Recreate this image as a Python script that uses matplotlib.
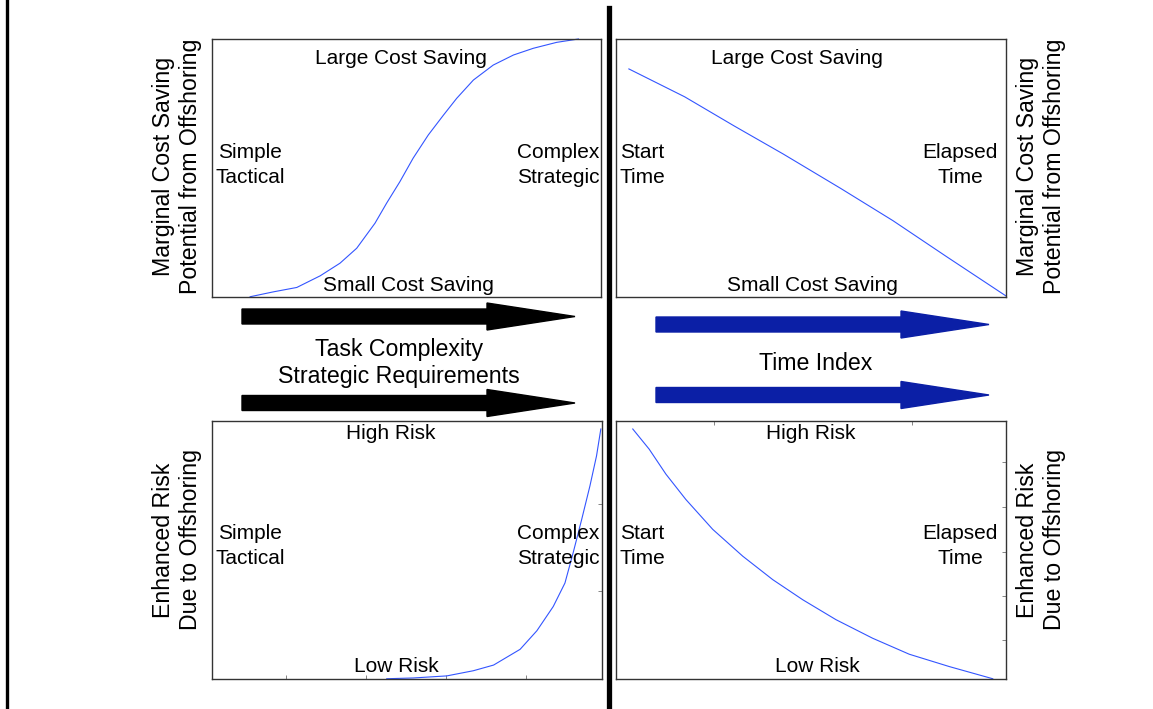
import matplotlib
matplotlib.use("Agg")
import matplotlib.pyplot as plt
from matplotlib.patches import FancyArrow
from matplotlib.lines import Line2D

plt.rcParams["font.family"] = ["Liberation Sans", "DejaVu Sans"]

W, H = 1153, 709

# curve data (x, y in 0..1 of each panel)
cost_task_x = [0.098, 0.158, 0.218, 0.278, 0.329, 0.372, 0.419, 0.449, 0.483, 0.517,
               0.556, 0.595, 0.629, 0.672, 0.723, 0.775, 0.826, 0.886, 0.942]
cost_task_y = [0.001, 0.020, 0.037, 0.082, 0.131, 0.189, 0.286, 0.364, 0.447, 0.538,
               0.628, 0.705, 0.770, 0.841, 0.899, 0.938, 0.964, 0.987, 1.0]

cost_time_x = [0.033, 0.176, 0.303, 0.429, 0.576, 0.710, 0.848, 1.0]
cost_time_y = [0.884, 0.776, 0.663, 0.554, 0.421, 0.296, 0.156, 0.004]

risk_task_x = [0.448, 0.516, 0.602, 0.670, 0.722, 0.790, 0.833, 0.875, 0.905, 0.926,
               0.948, 0.969, 0.986, 0.997]
risk_task_y = [0.001, 0.004, 0.012, 0.032, 0.054, 0.115, 0.187, 0.281, 0.372, 0.489,
               0.619, 0.748, 0.865, 0.969]

risk_time_x = [0.043, 0.085, 0.128, 0.179, 0.248, 0.325, 0.402, 0.479, 0.564, 0.658,
               0.752, 0.855, 0.966]
risk_time_y = [0.969, 0.891, 0.794, 0.696, 0.580, 0.476, 0.385, 0.307, 0.230, 0.158,
               0.096, 0.048, 0.001]

curve_color = "#3355ff"
blue_arrow = "#0b1fa6"


def fx(x):
    return x / W


def fy(y):
    return 1 - y / H


def make_ax(fig, left, top, right, bottom):
    ax = fig.add_axes([fx(left), fy(bottom), (right - left) / W, (bottom - top) / H])
    ax.set_xlim(0, 1)
    ax.set_ylim(0, 1)
    ax.set_xticks([])
    ax.set_yticks([])
    for s in ax.spines.values():
        s.set_color("#333333")
        s.set_linewidth(1.0)
    return ax


def label(fig, x, y, txt, size=15, spacing=1.35, **kw):
    fig.text(fx(x), fy(y), txt, ha="center", va="center", fontsize=size,
             multialignment="center", linespacing=spacing, **kw)


fig = plt.figure(figsize=(W / 100, H / 100), dpi=100)

ax_tl = make_ax(fig, 212, 39, 601, 297)
ax_tr = make_ax(fig, 616, 39, 1006, 297)
ax_bl = make_ax(fig, 212, 421, 602, 679)
ax_br = make_ax(fig, 616, 421, 1006, 679)

ax_tl.plot(cost_task_x, cost_task_y, color=curve_color, lw=0.8, clip_on=False)
ax_tr.plot(cost_time_x, cost_time_y, color=curve_color, lw=0.8, clip_on=False)
ax_bl.plot(risk_task_x, risk_task_y, color=curve_color, lw=0.8, clip_on=False)
ax_br.plot(risk_time_x, risk_time_y, color=curve_color, lw=0.8, clip_on=False)

# faint ticks on the lower panels
tick_kw = dict(direction="in", length=3, width=0.5, color="#555555")
ax_bl.set_xticks([0.19, 0.395, 0.6, 0.805])
ax_bl.tick_params(axis="x", labelbottom=False, **tick_kw)
ax_bl.yaxis.tick_right()
ax_bl.set_yticks([0.34, 0.68])
ax_bl.tick_params(axis="y", labelright=False, **tick_kw)
ax_br.xaxis.tick_top()
ax_br.set_xticks([0.25, 0.76])
ax_br.tick_params(axis="x", labeltop=False, **tick_kw)
ax_br.yaxis.tick_right()
ax_br.set_yticks([0.152, 0.323, 0.494, 0.665, 0.84])
ax_br.tick_params(axis="y", labelright=False, **tick_kw)

# panel annotations
label(fig, 401, 58, "Large Cost Saving")
label(fig, 250, 165, "Simple\nTactical")
label(fig, 558, 165, "Complex\nStrategic")
label(fig, 408, 285, "Small Cost Saving")

label(fig, 797, 58, "Large Cost Saving")
label(fig, 642, 165, "Start\nTime")
label(fig, 960, 165, "Elapsed\nTime")
label(fig, 812, 285, "Small Cost Saving")

label(fig, 391, 433, "High Risk")
label(fig, 250, 546, "Simple\nTactical")
label(fig, 558, 546, "Complex\nStrategic")
label(fig, 396, 667, "Low Risk")

label(fig, 811, 433, "High Risk")
label(fig, 642, 546, "Start\nTime")
label(fig, 960, 546, "Elapsed\nTime")
label(fig, 817, 667, "Low Risk")

# side labels
side_cost = "Marginal Cost Saving\nPotential from Offshoring"
side_risk = "Enhanced Risk\nDue to Offshoring"
label(fig, 177, 166, side_cost, size=16.7, spacing=1.2, rotation=90)
label(fig, 1041, 166, side_cost, size=16.7, spacing=1.2, rotation=90)
label(fig, 177, 540, side_risk, size=16.7, spacing=1.2, rotation=90)
label(fig, 1041, 540, side_risk, size=16.7, spacing=1.2, rotation=90)

# middle labels
label(fig, 399, 363, "Task Complexity\nStrategic Requirements", size=16.7, spacing=1.25)
label(fig, 816, 364, "Time Index", size=16.7)

# arrows (figure pixel layout)
arrows = [
    (242, 316.5, 575, "black"),
    (242, 403, 575, "black"),
    (656, 324.5, 989, blue_arrow),
    (656, 395, 989, blue_arrow),
]
for x0, y0, x1, c in arrows:
    fig.patches.append(FancyArrow(
        x0, H - y0, x1 - x0, 0, width=15, head_width=27, head_length=88,
        length_includes_head=True, color=c, transform=None, figure=fig))

# separators
fig.add_artist(Line2D([fx(7), fx(7)], [0, 1], color="black", lw=2.4))
fig.add_artist(Line2D([fx(609), fx(609)], [0, fy(8)], color="black", lw=3.8))

fig.savefig("out.png", dpi=100)
